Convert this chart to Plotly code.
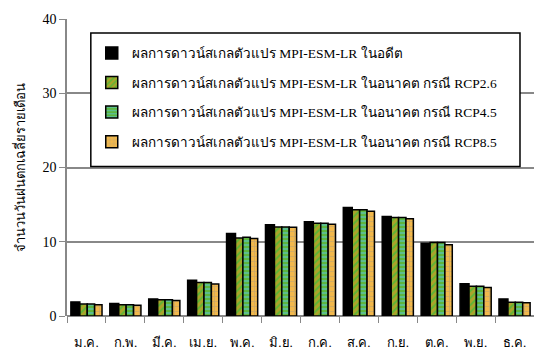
import plotly.graph_objects as go

months = ["ม.ค.", "ก.พ.", "มี.ค.", "เม.ย.", "พ.ค.", "มิ.ย.", "ก.ค.", "ส.ค.", "ก.ย.", "ต.ค.", "พ.ย.", "ธ.ค."]

past = [1.9, 1.7, 2.3, 4.8, 11.1, 12.3, 12.7, 14.6, 13.4, 9.8, 4.35, 2.3]
rcp26 = [1.6, 1.5, 2.2, 4.5, 10.5, 12.0, 12.5, 14.3, 13.25, 9.9, 4.0, 1.85]
rcp45 = [1.6, 1.5, 2.2, 4.5, 10.6, 12.0, 12.5, 14.3, 13.25, 9.9, 4.0, 1.85]
rcp85 = [1.5, 1.45, 2.1, 4.3, 10.45, 11.95, 12.35, 14.1, 13.1, 9.6, 3.85, 1.8]

names = [
    "ผลการดาวน์สเกลตัวแปร MPI-ESM-LR ในอดีต",
    "ผลการดาวน์สเกลตัวแปร MPI-ESM-LR ในอนาคต กรณี RCP2.6",
    "ผลการดาวน์สเกลตัวแปร MPI-ESM-LR ในอนาคต กรณี RCP4.5",
    "ผลการดาวน์สเกลตัวแปร MPI-ESM-LR ในอนาคต กรณี RCP8.5",
]

FONT = "Liberation Serif, Times New Roman, serif"

series = [
    (past, dict(color="#000000"), -0.40, 0.23),
    (rcp26, dict(color="#5DB536", pattern=dict(shape="/", fgcolor="#F7941D", bgcolor="#5DB536", size=5, solidity=0.6)), -0.17, 0.19),
    (rcp45, dict(color="#5DB536", pattern=dict(shape="-", fgcolor="#5BC8E6", bgcolor="#5DB536", size=4, solidity=0.55)), 0.02, 0.19),
    (rcp85, dict(color="#F2B84B", pattern=dict(shape="+", fgcolor="#A89C84", bgcolor="#F2B84B", size=5, solidity=0.3)), 0.21, 0.19),
]

fig = go.Figure()
for i, ((vals, marker, off, w), name) in enumerate(zip(series, names)):
    marker = dict(marker)
    marker["line"] = dict(color="#000000", width=1.5)
    fig.add_trace(go.Bar(
        x=months, y=vals, name=name, marker=marker,
        offset=off, width=w, legendgroup=f"g{i}",
    ))

# legend frame (wider than the auto-sized legend box)
fig.add_shape(
    type="rect", xref="paper", yref="paper",
    x0=0.051, x1=0.970, y0=0.503, y1=0.953,
    fillcolor="white", line=dict(color="#000000", width=1.5), layer="above",
)

fig.update_layout(
    width=534, height=351,
    margin=dict(l=67, r=0, t=19, b=35),
    paper_bgcolor="white", plot_bgcolor="white",
    barmode="overlay",
    font=dict(family=FONT, size=13, color="#000000"),
    showlegend=True,
    legend=dict(
        x=0.053, y=0.937, xanchor="left", yanchor="top",
        bgcolor="rgba(0,0,0,0)", borderwidth=0,
        font=dict(family=FONT, size=13.5),
        tracegroupgap=9, traceorder="grouped",
    ),
    xaxis=dict(
        showgrid=False, ticks="outside", tickson="boundaries", ticklen=6,
        tickcolor="#888888", showline=False,
        tickmode="array", tickvals=months, ticktext=["<br>" + m for m in months],
        tickfont=dict(family=FONT, size=13),
    ),
    yaxis=dict(
        range=[0, 40], dtick=10, showgrid=True, gridcolor="#888888", gridwidth=1.5,
        zeroline=True, zerolinecolor="#888888", zerolinewidth=1.5,
        showline=True, linecolor="#888888", linewidth=1.5,
        ticks="outside", ticklen=6, tickcolor="#888888",
        tickfont=dict(family=FONT, size=14),
        title=dict(text="จำนวนวันฝนตกเฉลี่ยรายเดือน", font=dict(family=FONT, size=13), standoff=14),
    ),
)

fig.write_html("out.html")
